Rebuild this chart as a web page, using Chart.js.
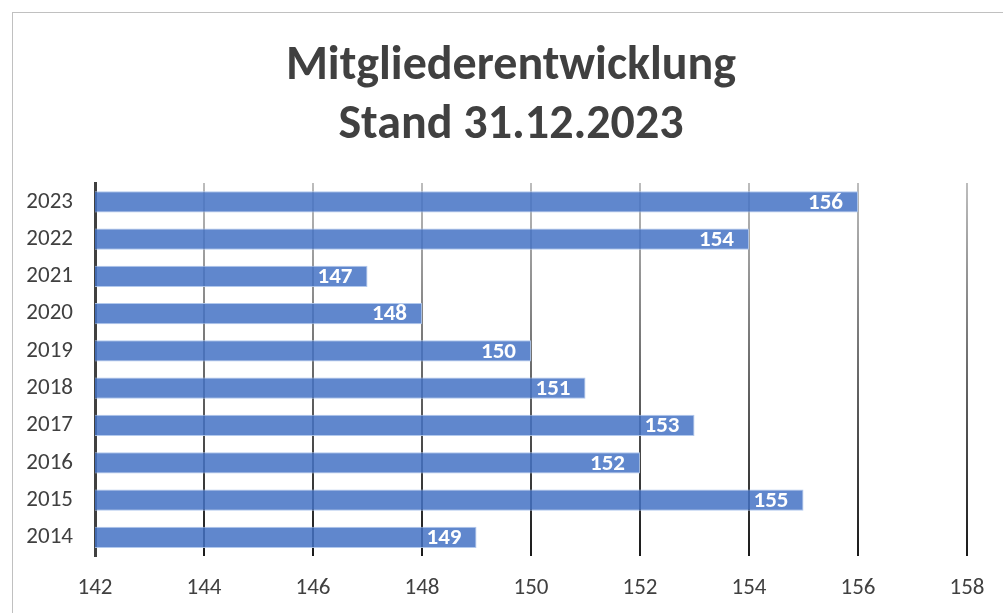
<!DOCTYPE html>
<html>
<head>
<meta charset="utf-8">
<script src="https://cdn.jsdelivr.net/npm/chart.js@4"></script>
<style>
  html, body { margin: 0; padding: 0; background: #fff; }
  #wrap { position: relative; width: 1003px; height: 613px; overflow: hidden; }
  #frame { position: absolute; left: 12px; top: 12px; width: 1100px; height: 700px;
           border-left: 1px solid #c0c0c0; border-top: 1px solid #c0c0c0; }
  canvas { position: absolute; left: 0; top: 0; }
</style>
</head>
<body>
<div id="wrap">
  <div id="frame"></div>
  <canvas id="myChart" width="1003" height="613"></canvas>
</div>
<script>
// data
const years = ["2023", "2022", "2021", "2020", "2019", "2018", "2017", "2016", "2015", "2014"]
const members = [156, 154, 147, 148, 150, 151, 153, 152, 155, 149]
const titleLines = ["Mitgliederentwicklung", "Stand 31.12.2023"]
const xMin = 142
const xMax = 158
const xStep = 2

const fontFam = "Carlito, Calibri, Lato, sans-serif"

// white numbers at the end of each bar
const barLabels = {
    id: "barLabels",
    afterDatasetsDraw(chart) {
        const c = chart.ctx
        const meta = chart.getDatasetMeta(0)
        c.save()
        c.fillStyle = "#ffffff"
        c.font = "bold 23px " + fontFam
        c.textAlign = "right"
        c.textBaseline = "middle"
        meta.data.forEach(function (bar, i) {
            c.fillText(members[i], bar.x - 15, bar.y + 1)
        })
        c.restore()
    }
}

function gridColor(context) {
    const area = context.chart.chartArea
    if (!area) return "#808080"
    const g = context.chart.ctx.createLinearGradient(0, area.top, 0, area.bottom)
    g.addColorStop(0, "#bdbdbd")
    g.addColorStop(1, "#1a1a1a")
    return g
}

const ctx = document.getElementById("myChart")

new Chart(ctx, {
    type: "bar",
    data: {
        labels: years,
        datasets: [
            {
                data: members,
                backgroundColor: "rgba(68,114,196,0.85)",
                borderColor: "rgba(170,195,235,0.9)",
                borderWidth: 1,
                borderSkipped: "start",
                categoryPercentage: 1,
                barPercentage: 0.57,
            },
        ],
    },
    options: {
        indexAxis: "y",
        responsive: false,
        animation: false,
        layout: { padding: { left: 19, right: 0, top: 0, bottom: 11 } },
        plugins: {
            legend: { display: false },
            tooltip: { enabled: false },
            title: {
                display: true,
                text: titleLines,
                color: "#404040",
                font: { family: fontFam, size: 48, weight: "bold", lineHeight: 1.22 },
                padding: { top: 38, bottom: 28 },
            },
        },
        scales: {
            x: {
                min: xMin,
                max: xMax,
                ticks: {
                    stepSize: xStep,
                    color: "#404040",
                    font: { family: fontFam, size: 23 },
                    padding: 18,
                },
                grid: {
                    color: gridColor,
                    lineWidth: 2,
                    drawTicks: false,
                },
                border: { display: false },
                afterFit(scale) {
                    scale.height = 46
                    scale.paddingRight = 36
                },
            },
            y: {
                ticks: {
                    color: "#404040",
                    font: { family: fontFam, size: 23 },
                    padding: 22,
                },
                grid: { display: false, drawTicks: false },
                border: { display: true, color: "#404040", width: 3 },
                afterFit(scale) { scale.width = 76 },
            },
        },
    },
    plugins: [barLabels],
})
</script>
</body>
</html>
